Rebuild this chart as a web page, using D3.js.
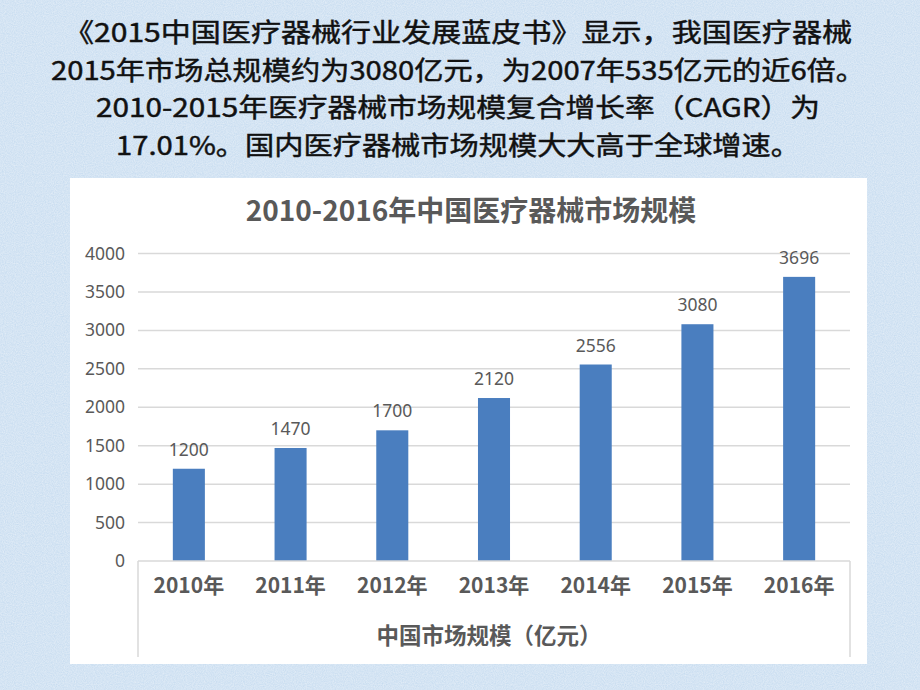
<!DOCTYPE html>
<html><head><meta charset="utf-8">
<script src="https://cdn.jsdelivr.net/npm/d3@7"></script>
<style>html,body{margin:0;padding:0;background:#d3e4f4;}svg{display:block;}</style>
</head><body>
<svg id="c" width="920" height="690"></svg>
<script>
const introLines = [
  "《2015中国医疗器械行业发展蓝皮书》显示，我国医疗器械",
  "2015年市场总规模约为3080亿元，为2007年535亿元的近6倍。",
  "2010-2015年医疗器械市场规模复合增长率（CAGR）为",
  "17.01%。国内医疗器械市场规模大大高于全球增速。"
];
const chartTitle = "2010-2016年中国医疗器械市场规模";
const categories = ["2010年","2011年","2012年","2013年","2014年","2015年","2016年"];
const values = [1200, 1470, 1700, 2120, 2556, 3080, 3696];
const yTicks = [0, 500, 1000, 1500, 2000, 2500, 3000, 3500, 4000];
const seriesName = "中国市场规模（亿元）";

(function(){
const svg = d3.select("#c");
const defs = svg.append("defs");
const f = defs.append("filter").attr("id","noise").attr("x",0).attr("y",0).attr("width","100%").attr("height","100%");
f.append("feTurbulence").attr("type","fractalNoise").attr("baseFrequency",0.9).attr("numOctaves",2).attr("seed",3).attr("result","n");
f.append("feColorMatrix").attr("type","matrix").attr("in","n")
  .attr("values","0 0 0 0 1  0 0 0 0 1  0 0 0 0 1  0 0 0 0.55 0").attr("result","w");
f.append("feComposite").attr("in","w").attr("in2","SourceGraphic").attr("operator","in");

svg.append("rect").attr("width",920).attr("height",690).attr("fill","#c4daef");
svg.append("rect").attr("width",920).attr("height",690).attr("fill","#c4daef").attr("filter","url(#noise)");

const CJK = "'Noto Sans CJK SC','Noto Sans',sans-serif";

svg.append("g").selectAll("text").data(introLines).join("text")
  .attr("x",458).attr("y",(d,i)=>42+i*37.7)
  .attr("text-anchor","middle")
  .attr("font-family",CJK).attr("font-size",26).attr("fill","#111")
  .attr("stroke","#111").attr("stroke-width",0.45)
  .attr("textLength",(d,i)=>[788,814,724,684][i]).attr("lengthAdjust","spacingAndGlyphs")
  .text(d=>d);

// panel
svg.append("rect").attr("x",70).attr("y",178).attr("width",797).attr("height",486).attr("fill","#ffffff");

svg.append("text").attr("x",471).attr("y",221).attr("text-anchor","middle")
  .attr("font-family",CJK).attr("font-weight","bold").attr("font-size",28).attr("fill","#595959")
  .text(chartTitle);

const pL = 138, pR = 850, pT = 253.5, pB = 561;
const x = d3.scaleBand().domain(categories).range([pL,pR]).paddingInner(0.685).paddingOuter(0.3425);
const y = d3.scaleLinear().domain([0,4000]).range([pB, pT]);

// gridlines
svg.append("g").selectAll("line").data(yTicks.filter(t=>t>0)).join("line")
  .attr("x1",pL).attr("x2",pR).attr("y1",d=>y(d)).attr("y2",d=>y(d))
  .attr("stroke","#d9d9d9").attr("stroke-width",1.5);

// y axis labels
const yAxis = d3.axisLeft(y).tickValues(yTicks).tickSize(0).tickPadding(13).tickFormat(d3.format("d"));
const ya = svg.append("g").attr("transform",`translate(${pL},0)`).call(yAxis);
ya.select(".domain").remove();
ya.selectAll("text").attr("font-family","'Noto Sans',sans-serif").attr("font-size",17.5).attr("fill","#595959");

// bars
svg.append("g").selectAll("rect").data(values).join("rect")
  .attr("x",(d,i)=>x(categories[i])).attr("width",x.bandwidth())
  .attr("y",d=>y(d)).attr("height",d=>y(0)-y(d)).attr("fill","#4a7ebf");

// data labels
svg.append("g").selectAll("text").data(values).join("text")
  .attr("x",(d,i)=>x(categories[i])+x.bandwidth()/2).attr("y",d=>y(d)-13)
  .attr("text-anchor","middle").attr("font-family","'Noto Sans',sans-serif").attr("font-size",17.5).attr("fill","#595959")
  .text(d=>d);

// category axis with table-like border
svg.append("line").attr("x1",pL).attr("x2",pR).attr("y1",pB).attr("y2",pB).attr("stroke","#d9d9d9").attr("stroke-width",1.5);
svg.append("line").attr("x1",pL).attr("x2",pL).attr("y1",pB).attr("y2",657).attr("stroke","#d9d9d9").attr("stroke-width",1.5);
svg.append("line").attr("x1",pR).attr("x2",pR).attr("y1",pB).attr("y2",657).attr("stroke","#d9d9d9").attr("stroke-width",1.5);

const xAxis = d3.axisBottom(x).tickSize(0).tickPadding(17);
const xa = svg.append("g").attr("transform",`translate(0,${pB})`).call(xAxis);
xa.select(".domain").remove();
xa.selectAll("text").attr("font-family",CJK).attr("font-weight","bold").attr("font-size",21).attr("fill","#595959");

svg.append("text").attr("x",489).attr("y",644).attr("text-anchor","middle")
  .attr("font-family",CJK).attr("font-weight","bold").attr("font-size",22.5).attr("fill","#595959")
  .text(seriesName);
})();
</script>
</body></html>
